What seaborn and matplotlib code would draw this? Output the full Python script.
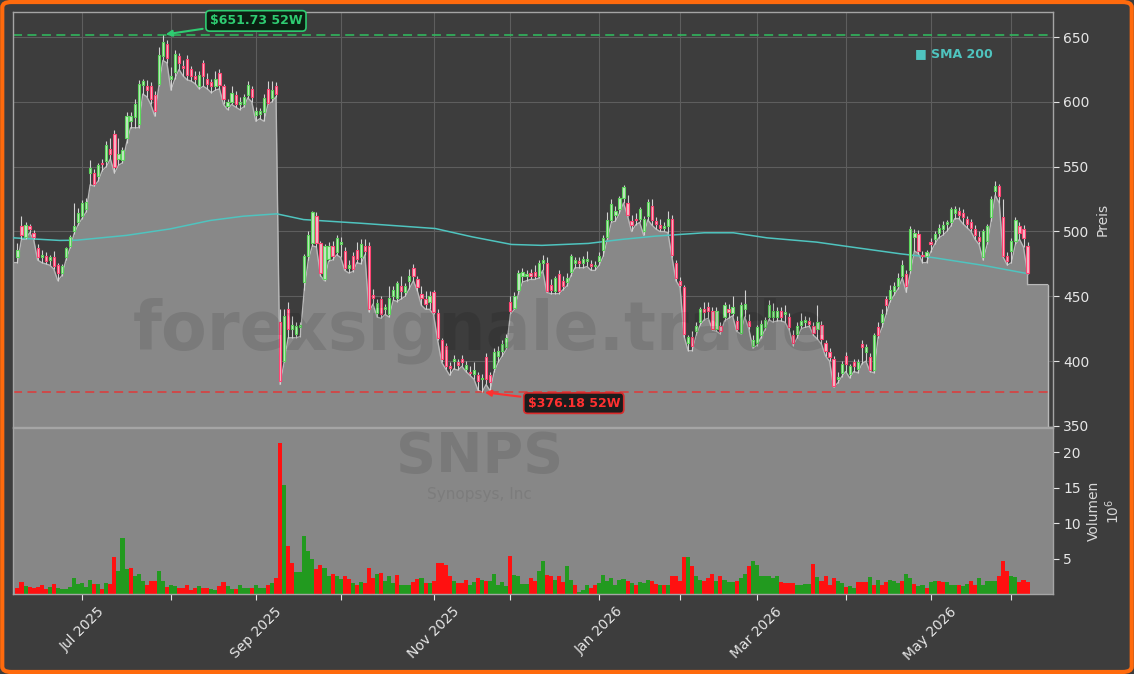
import numpy as np
import pandas as pd
import matplotlib.pyplot as plt
import seaborn as sns
from matplotlib.patches import FancyBboxPatch

# Farben
BG = "#3d3d3d"
FILL = "#888888"
UP_EDGE, UP_FACE = "#5cd65c", "#c4e6c4"
DN_EDGE, DN_FACE = "#ff4473", "#f2bcc8"
SMA_COLOR = "#4fc4bf"
TXT = "#e6e6e6"

sns.set_theme(style="dark", rc={
    "axes.facecolor": BG,
    "figure.facecolor": BG,
    "axes.edgecolor": "#a5a5a5",
    "grid.color": "#5e5e5e",
})
plt.rcParams["font.family"] = ["DejaVu Sans"]

start_date = "2025-06-06"
holidays = ["2025-06-19", "2025-07-04", "2025-09-01", "2025-11-27", "2025-12-25",
            "2026-01-01", "2026-01-19", "2026-02-16", "2026-04-03", "2026-05-25"]

opens = [480, 504, 496, 504, 499, 487, 480, 481, 478, 480,
         474, 468, 480, 489, 500, 507, 512, 517, 545, 545,
         543, 553, 554, 564, 575, 556, 555, 572, 585, 588,
         583, 613, 612, 612, 605, 614, 635, 645, 618, 623,
         635, 628, 633, 625, 620, 612, 630, 618, 615, 612,
         622, 612, 597, 600, 605, 598, 598, 605, 610, 590,
         591, 592, 610, 603, 612, 430, 400, 440, 425, 421,
         426, 461, 481, 491, 512, 491, 463, 479, 489, 484,
         490, 485, 472, 481, 486, 480, 489, 489, 451, 437,
         448, 440, 436, 450, 449, 458, 453, 462, 472, 463,
         452, 448, 446, 453, 437, 416, 412, 396, 400, 399,
         402, 394, 392, 390, 389, 386, 403, 389, 395, 404,
         408, 411, 446, 441, 455, 466, 466, 468, 469, 466,
         476, 476, 459, 454, 467, 462, 461, 469, 476, 477,
         476, 477, 475, 473, 477, 486, 496, 509, 513, 517,
         526, 522, 508, 510, 510, 500, 512, 520, 508, 505,
         503, 504, 510, 476, 462, 457, 414, 419, 423, 430,
         440, 442, 439, 425, 427, 434, 440, 437, 431, 422,
         440, 431, 412, 414, 420, 426, 434, 434, 434, 439,
         436, 434, 420, 421, 428, 430, 431, 427, 425, 428,
         414, 407, 402, 386, 391, 404, 390, 399, 394, 413,
         407, 403, 393, 426, 430, 448, 448, 454, 458, 466,
         467, 470, 496, 498, 482, 481, 492, 494, 499, 502,
         506, 507, 514, 516, 514, 510, 507, 502, 496, 480,
         493, 511, 531, 535, 511, 481, 485, 493, 504, 502,
         489]

highs = [491, 512, 507, 506, 501, 490, 486, 484, 482, 485,
         476, 475, 488, 497, 522, 518, 524, 526, 555, 548,
         553, 556, 570, 572, 578, 572, 565, 592, 592, 602,
         617, 618, 617, 615, 608, 642, 651.73, 648, 627, 640,
         638, 632, 636, 628, 624, 624, 632, 622, 618, 624,
         625, 614, 602, 612, 608, 604, 606, 616, 612, 596,
         595, 606, 616, 616, 615, 440, 440, 446, 435, 430,
         430, 483, 500, 516, 515, 493, 490, 492, 493, 497,
         496, 488, 478, 484, 492, 494, 494, 492, 456, 448,
         450, 444, 458, 458, 462, 466, 460, 471, 475, 466,
         458, 454, 454, 455, 440, 418, 414, 399, 405, 402,
         405, 400, 396, 399, 392, 390, 406, 392, 410, 412,
         416, 421, 450, 453, 470, 472, 470, 471, 474, 478,
         482, 480, 463, 466, 470, 466, 468, 483, 480, 480,
         481, 485, 478, 477, 484, 497, 515, 525, 520, 527,
         536, 528, 513, 514, 519, 512, 525, 525, 511, 510,
         507, 516, 513, 478, 465, 459, 420, 423, 430, 442,
         446, 446, 442, 442, 430, 446, 444, 450, 435, 446,
         455, 436, 420, 428, 432, 434, 447, 445, 442, 442,
         443, 437, 424, 430, 437, 435, 434, 430, 443, 431,
         416, 410, 404, 392, 400, 407, 398, 402, 402, 416,
         413, 406, 422, 430, 440, 450, 459, 461, 468, 478,
         470, 504, 502, 501, 485, 486, 495, 500, 506, 508,
         509, 519, 520, 519, 517, 512, 510, 505, 500, 502,
         506, 527, 539, 537, 525, 484, 495, 511, 507, 505,
         492]

lows = [476, 494, 494, 499, 494, 478, 476, 475, 474, 471,
        462, 466, 478, 487, 498, 505, 510, 515, 536, 535,
        539, 547, 550, 556, 545, 551, 553, 568, 580, 580,
        580, 606, 604, 598, 589, 612, 632, 630, 609, 618,
        625, 620, 617, 616, 614, 610, 612, 610, 607, 609,
        610, 598, 594, 598, 596, 594, 596, 603, 600, 585,
        587, 585, 598, 600, 604, 382, 399, 418, 418, 418,
        419, 455, 478, 489, 488, 466, 462, 477, 478, 482,
        480, 470, 468, 469, 476, 475, 482, 438, 444, 434,
        433, 436, 434, 447, 446, 448, 450, 456, 462, 454,
        443, 440, 440, 436, 416, 399, 394, 389, 394, 393,
        396, 392, 389, 386, 377.5, 376.18, 382, 377, 392, 399,
        404, 409, 436, 440, 452, 461, 462, 463, 463, 464,
        470, 453, 452, 452, 452, 455, 458, 466, 472, 472,
        472, 473, 470, 470, 474, 481, 494, 507, 508, 514,
        522, 512, 500, 505, 507, 497, 509, 505, 502, 500,
        500, 499, 480, 462, 457, 419, 408, 408, 420, 428,
        432, 433, 424, 423, 421, 431, 433, 435, 423, 421,
        434, 425, 410, 412, 418, 424, 432, 430, 431, 431,
        430, 424, 412, 418, 425, 426, 427, 420, 417, 413,
        404, 400, 380, 383, 388, 392, 387, 392, 391, 398,
        400, 392, 391, 418, 426, 436, 446, 451, 456, 464,
        453, 468, 485, 483, 476, 476, 484, 490, 495, 497,
        500, 504, 510, 510, 506, 503, 500, 494, 490, 478,
        490, 508, 528, 522, 480, 474, 476, 490, 494, 488,
        467]

closes = [486, 497, 505, 502, 496, 480, 482, 477, 480, 473,
          468, 473, 487, 496, 504, 514, 522, 523, 549, 537,
          551, 552, 567, 560, 550, 560, 563, 589, 589, 598,
          614, 616, 609, 602, 593, 636, 646, 634, 620, 637,
          630, 626, 621, 620, 618, 621, 620, 614, 612, 618,
          613, 602, 600, 607, 598, 600, 604, 613, 604, 593,
          593, 603, 599, 609, 606, 385, 435, 425, 428, 427,
          428, 481, 497, 515, 491, 468, 489, 489, 481, 495,
          492, 472, 474, 471, 479, 490, 485, 440, 449, 445,
          436, 442, 449, 455, 460, 454, 458, 466, 466, 457,
          449, 444, 450, 438, 418, 402, 396, 395, 402, 397,
          399, 397, 391, 393, 385, 387, 386, 384, 407, 408,
          413, 418, 439, 450, 468, 469, 467, 466, 466, 476,
          478, 454, 455, 464, 454, 458, 464, 481, 478, 476,
          479, 479, 473, 474, 481, 495, 509, 521, 516, 526,
          534, 513, 505, 509, 517, 510, 523, 509, 506, 503,
          504, 510, 482, 464, 459, 421, 419, 412, 427, 440,
          438, 439, 425, 439, 423, 443, 438, 442, 425, 443,
          444, 427, 416, 426, 429, 432, 443, 439, 439, 434,
          438, 426, 414, 427, 431, 432, 429, 422, 430, 417,
          408, 403, 381, 388, 398, 398, 396, 396, 399, 411,
          411, 393, 420, 420, 436, 443, 455, 458, 464, 474,
          458, 502, 499, 485, 481, 484, 490, 498, 503, 505,
          507, 517, 517, 513, 511, 506, 503, 497, 493, 500,
          504, 525, 535, 527, 481, 477, 493, 509, 499, 495,
          468]

# Volumen in Mio.
volumes = [0.9, 1.65, 1.1, 1.0, 0.9, 1.05, 1.3, 0.7, 1.05, 1.4,
           0.85, 0.75, 0.75, 0.95, 2.2, 1.4, 1.5, 0.95, 2.0, 1.35,
           1.35, 0.75, 1.6, 1.35, 5.2, 3.2, 7.9, 3.5, 3.6, 2.5,
           2.8, 1.9, 1.3, 1.8, 1.8, 3.3, 1.9, 1.0, 1.2, 1.1,
           0.9, 0.9, 1.3, 0.6, 0.9, 1.1, 0.9, 0.9, 0.7, 0.6,
           1.1, 1.65, 1.1, 0.75, 0.75, 1.2, 0.9, 0.9, 0.9, 1.3,
           0.9, 0.9, 1.3, 1.55, 2.2, 21.3, 15.4, 6.7, 4.4, 3.1,
           3.1, 8.2, 6.1, 4.9, 3.5, 4.1, 3.6, 2.5, 2.8, 2.6,
           2.1, 2.5, 2.15, 1.6, 1.2, 1.65, 1.55, 3.6, 2.2, 2.8,
           3.0, 1.85, 2.5, 1.6, 2.7, 1.3, 1.3, 1.25, 1.7, 2.1,
           2.3, 1.6, 1.6, 1.9, 4.3, 4.3, 4.05, 2.6, 1.9, 1.6,
           1.6, 2.0, 1.3, 1.7, 2.2, 2.0, 1.9, 1.8, 2.85, 1.25,
           1.7, 1.1, 5.3, 2.7, 2.5, 1.45, 1.45, 2.2, 1.9, 3.3,
           4.6, 2.7, 2.6, 2.0, 2.5, 1.7, 3.9, 2.0, 1.3, 0.3,
           0.55, 1.3, 0.9, 1.2, 1.6, 2.7, 1.8, 2.2, 1.3, 2.0,
           2.1, 1.8, 1.6, 1.2, 1.75, 1.6, 2.0, 1.9, 1.4, 1.3,
           1.2, 1.3, 2.5, 2.5, 1.9, 5.2, 5.2, 3.9, 2.5, 2.0,
           1.8, 2.3, 2.85, 1.8, 2.5, 2.0, 1.7, 1.7, 1.9, 2.3,
           2.85, 3.9, 4.6, 4.05, 2.5, 2.5, 2.5, 2.2, 2.6, 1.7,
           1.6, 1.5, 1.5, 1.25, 1.25, 1.45, 1.45, 4.2, 2.4, 1.9,
           2.6, 1.3, 2.3, 1.9, 1.6, 1.0, 1.1, 0.9, 1.7, 1.7,
           1.7, 2.4, 1.2, 2.0, 1.3, 1.7, 2.0, 1.8, 1.6, 1.8,
           2.85, 2.2, 1.45, 1.1, 1.3, 0.8, 1.7, 1.9, 1.8, 1.7,
           1.75, 1.2, 1.2, 1.3, 1.1, 1.45, 1.9, 1.2, 2.2, 1.3,
           1.9, 1.8, 1.8, 2.5, 4.7, 3.3, 2.6, 2.35, 1.7, 2.0,
           1.75]

# g = grüner Balken, r = roter Balken
vol_dir = ("rrgrrrrrgr" "gggggggggr" "grgrrgggrg" "ggrrrggrgg" "rrrrrgrrgg"
           "rrggrgggrg" "ggrgrrgrrg" "ggggrrggrg" "grrgrgrrrg" "rgggr"
           "gggrrgrgrr" "rrrgrrrggr" "grgggggrgg" "ggrrggrrgr" "rggrgggrrg"
           "ggggggrgrg" "ggrrgrgrrr" "rgrggrrrgr" "gggrggrggg" "ggggrrrrg"
           "gggrgrrrrg" "grggrrrgrg" "rrgggrggrg" "grggrrgggr" "ggrrgggggr"
           "rrggrrr")

# SMA 200 (Stützpunkte: Balkenindex, Wert)
sma_idx = [-1, 10.5, 14.7, 27, 37.8, 47.7, 55.9, 64.2, 70.8, 80.7, 84.8,
           103.4, 112.5, 122.3, 129.8, 141.3, 149.6, 157.8, 170, 177.2,
           185.5, 197.8, 206, 218.5, 226.8, 239, 250]
sma_vals = [495.1, 493.1, 493.3, 497, 502, 508.5, 511.8, 513.6, 509.2, 507.2, 506.4,
            502.3, 495.9, 490, 489.3, 490.8, 493.9, 496.4, 499, 499,
            495.1, 491.8, 488.2, 482.8, 479.8, 473.9, 467.5]

pad_price = 459     # flacher Bereich nach dem letzten Balken
pad_end = 255
high_52w = 651.73
low_52w = 376.18
price_ticks = [350, 400, 450, 500, 550, 600, 650]
vol_ticks = [5, 10, 15, 20]

# --- Aufbereitung ---
cbd = pd.offsets.CustomBusinessDay(holidays=holidays)
dates = pd.date_range(start_date, periods=len(closes), freq=cbd)
df = pd.DataFrame({"Open": opens, "High": highs, "Low": lows, "Close": closes,
                   "Volume": volumes, "Dir": list(vol_dir)}, index=dates)
x = np.arange(len(df))
o, h, l, c = (df[k].to_numpy(float) for k in ["Open", "High", "Low", "Close"])
up = c >= o

YLO, YHI = 349.2, 669.3
XLO, XHI = -1.1, 256.3

fig = plt.figure(figsize=(11.34, 6.74), dpi=100)
ax = fig.add_axes([13 / 1134, 1 - 427 / 674, 1040 / 1134, 415 / 674])
axv = fig.add_axes([13 / 1134, 1 - 594 / 674, 1040 / 1134, 166 / 674], sharex=ax)

# graue Fläche unter den Tiefs (links bis zum Achsenrand, rechts bis pad_end)
fx = np.r_[XLO, x, x[-1], pad_end]
fy = np.r_[l[0], l, pad_price, pad_price]
ax.fill_between(fx, fy, YLO, color=FILL, lw=0, zorder=1)
ax.plot(fx, fy, color="#b8b8b8", lw=1, zorder=2)
ax.plot([pad_end, pad_end], [pad_price, YLO], color="#b8b8b8", lw=1, zorder=2)

# 52W Linien
ax.axhline(high_52w, color="#2fbf60", ls=(0, (5, 3)), lw=1.3, alpha=0.85, zorder=2)
ax.axhline(low_52w, color="#e03a3a", ls=(0, (5, 3)), lw=1.3, alpha=0.85, zorder=2)

# SMA 200
sns.lineplot(x=sma_idx, y=sma_vals, ax=ax, color=SMA_COLOR, lw=1.1, zorder=3)

# Kerzen
ax.vlines(x, l, h, color="#d2d2d2", lw=0.8, zorder=4)
body_lo = np.minimum(o, c)
body_h = np.maximum(np.abs(c - o), 0.9)
ax.bar(x[up], body_h[up], bottom=body_lo[up], width=0.55, color=UP_FACE,
       edgecolor=UP_EDGE, lw=0.8, zorder=5)
ax.bar(x[~up], body_h[~up], bottom=body_lo[~up], width=0.55, color=DN_FACE,
       edgecolor=DN_EDGE, lw=0.8, zorder=5)

# Annotationen
hi_i = int(np.argmax(h))
lo_i = int(np.argmin(l))
ax.annotate(f"${high_52w:.2f} 52W", xy=(hi_i, high_52w), xytext=(67, 10),
            textcoords="offset points", ha="center", va="center",
            color="#2ecc71", fontsize=9, fontweight="bold", zorder=8,
            bbox=dict(boxstyle="round,pad=0.3", fc="#0c1f12", ec="#2ecc71", lw=1.2),
            arrowprops=dict(arrowstyle="-|>", color="#2ecc71", lw=1.5, mutation_scale=9))
ax.annotate(f"${low_52w:.2f} 52W", xy=(lo_i, low_52w), xytext=(66, -8),
            textcoords="offset points", ha="center", va="center",
            color="#ff3030", fontsize=9, fontweight="bold", zorder=8,
            bbox=dict(boxstyle="round,pad=0.3", fc="#1c1c1c", ec="#d92b2b", lw=1.2),
            arrowprops=dict(arrowstyle="-|>", color="#ff3030", lw=1.5, mutation_scale=9))

ax.text(0.867, 0.899, "■ SMA 200", transform=ax.transAxes, color=SMA_COLOR,
        fontsize=9, fontweight="bold", ha="left", va="center")

# Volumen
vcols = np.where(df["Dir"] == "g", "#229a1f", "#ff1010")
axv.bar(x, df["Volume"], width=1.0, color=vcols, lw=0, zorder=2)
axv.set_facecolor("#878787")

# Achsen
ax.set_xlim(XLO, XHI)
ax.set_ylim(YLO, YHI)
axv.set_ylim(0, 23.4)

ax.yaxis.tick_right()
ax.yaxis.set_label_position("right")
axv.yaxis.tick_right()
axv.yaxis.set_label_position("right")
ax.set_yticks(price_ticks)
axv.set_yticks(vol_ticks)

m = dates.month
month_pos = [i for i in range(1, len(dates)) if m[i] != m[i - 1]]
month_lab = [dates[i].strftime("%b %Y") if k % 2 == 0 else "" for k, i in enumerate(month_pos)]
axv.set_xticks(month_pos)
axv.set_xticklabels(month_lab, rotation=45)

ax.grid(True, color="#5e5e5e", lw=0.8)
axv.grid(False)
ax.tick_params(axis="x", bottom=False, labelbottom=False)
for a in (ax, axv):
    a.tick_params(axis="y", right=True, left=False, colors=TXT, labelsize=10, length=4, width=0.8)
    for s in a.spines.values():
        s.set_color("#a5a5a5")
        s.set_linewidth(1)
axv.tick_params(axis="x", bottom=True, colors=TXT, labelsize=10, length=4, width=0.8)

ax.set_ylabel("Preis", color="#d8d8d8", fontsize=10)
axv.set_ylabel("Volumen\n$10^{6}$", color="#d8d8d8", fontsize=10)
ax.set_xlabel("")
axv.set_xlabel("")

# Wasserzeichen
fig.text(0.423, 0.509, "forexsignale.trade", fontsize=48, fontweight="bold",
         color="black", alpha=0.1, ha="center", va="center", zorder=20)
fig.text(0.423, 0.322, "SNPS", fontsize=40, fontweight="bold",
         color="black", alpha=0.1, ha="center", va="center", zorder=20)
fig.text(0.423, 0.266, "Synopsys, Inc", fontsize=11,
         color="black", alpha=0.08, ha="center", va="center", zorder=20)

# oranger Rahmen
fig.patches.append(FancyBboxPatch((0.002, 0.003), 0.996, 0.994,
                                  boxstyle="round,pad=0,rounding_size=0.008",
                                  transform=fig.transFigure, fill=False,
                                  ec="#ff6a0d", lw=3))

fig.savefig("out.png", dpi=100, facecolor=fig.get_facecolor())
